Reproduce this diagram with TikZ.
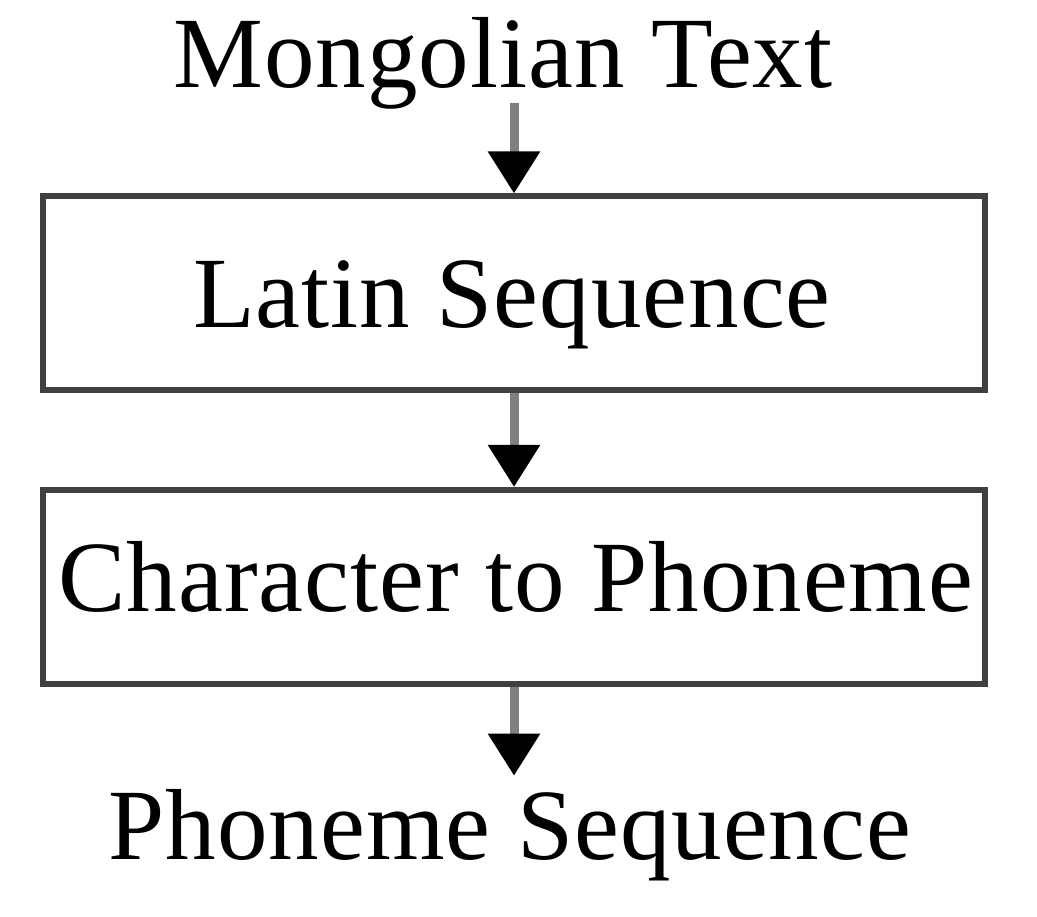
\documentclass[tikz,border=0pt]{standalone}
\usepackage{fontspec}
\setmainfont{Liberation Serif}[LetterSpace=1.0]
\usetikzlibrary{arrows.meta}
\begin{document}
\begin{tikzpicture}[x=1pt,y=1pt,
  lbl/.style={inner sep=0pt, anchor=base, font=\fontsize{101}{120}\selectfont},
  stagebox/.style={draw=black!75, line width=6pt, minimum width=942pt, minimum height=194pt, inner sep=0pt},
  arr/.style={draw=black!50, line width=9pt, -{Triangle[width=50pt,length=42pt,color=black]}}
]
\useasboundingbox (0,0) rectangle (1037,917);
\node[lbl] (mt) at (503,829) {Mongolian Text};
\node[stagebox] (b1) at (514,623.5) {};
\node[lbl] (t1) at (512,589) {Latin Sequence};
\node[stagebox] (b2) at (514,330) {};
\node[lbl] (t2) at (516,305) {Character to Phoneme};
\node[lbl] (ps) at (510,57) {Phoneme Sequence};
\draw[arr] (b1.north |- 0,814) -- (b1.north);
\draw[arr] (b1.south) -- (b2.north);
\draw[arr, shorten >=14pt] (b2.south) -- (b2.south |- ps.north);
\end{tikzpicture}
\end{document}
